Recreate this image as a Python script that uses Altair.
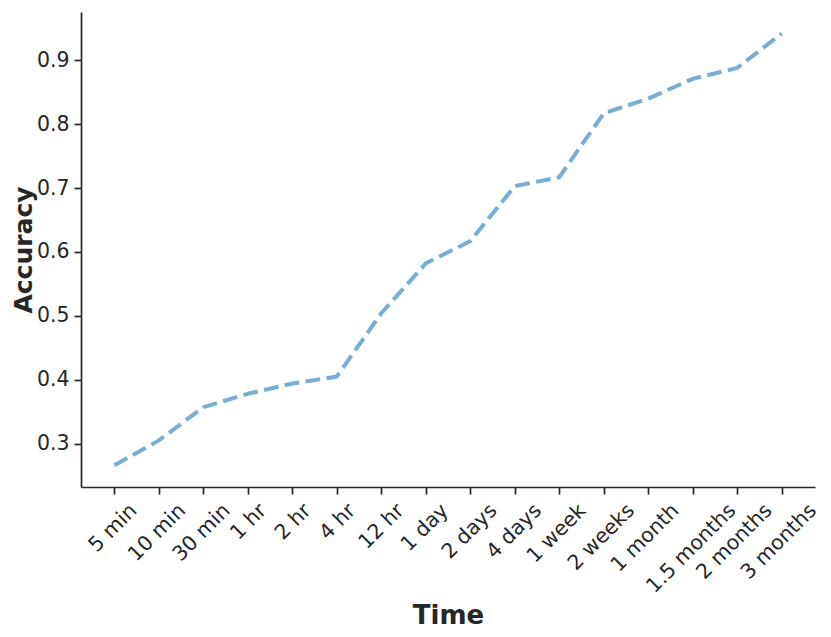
import altair as alt
import pandas as pd

times = ["5 min", "10 min", "30 min", "1 hr", "2 hr", "4 hr", "12 hr", "1 day",
         "2 days", "4 days", "1 week", "2 weeks", "1 month", "1.5 months",
         "2 months", "3 months"]
accuracy = [0.266, 0.305, 0.357, 0.378, 0.394, 0.405, 0.504, 0.582,
            0.617, 0.703, 0.717, 0.817, 0.840, 0.871, 0.888, 0.942]
y_ticks = [0.3, 0.4, 0.5, 0.6, 0.7, 0.8, 0.9]

df = pd.DataFrame({"Time": times, "Accuracy": accuracy})

FONT = "DejaVu Sans"
INK = "#262626"

chart = alt.Chart(df).mark_line(
    color="#79add2", strokeWidth=4, strokeDash=[14.8, 6.4]
).encode(
    x=alt.X(
        "Time:O", sort=times,
        scale=alt.Scale(type="point", padding=0.75),
        axis=alt.Axis(
            title="Time", titleFont=FONT, titleFontSize=26, titleFontWeight="bold",
            titleColor=INK, titleY=136, titleBaseline="alphabetic",
            labelFont=FONT, labelFontSize=20.5, labelColor=INK,
            labelAngle=-45, labelAlign="right", labelBaseline="top",
            labelOffset=alt.ExprRef("0.354*(length(datum.value)*11.5 - 24)"),
            labelPadding=6, labelOverlap=False, labelBound=False, labelFlush=False,
            tickSize=7, tickWidth=1.7, tickColor=INK,
            domainWidth=1.7, domainColor=INK, grid=False,
        ),
    ),
    y=alt.Y(
        "Accuracy:Q",
        scale=alt.Scale(domain=[0.2321, 0.9756], nice=False, zero=False),
        axis=alt.Axis(
            values=y_ticks, format=".1f",
            title="Accuracy", titleFont=FONT, titleFontSize=25, titleFontWeight="bold",
            titleColor=INK, titleX=-49.8, titleY=237.5, titleBaseline="alphabetic",
            labelFont=FONT, labelFontSize=20.5, labelColor=INK, labelPadding=5,
            tickSize=7, tickWidth=1.7, tickColor=INK,
            domainWidth=1.7, domainColor=INK, grid=False,
        ),
    ),
).properties(
    width=734, height=475,
    autosize=alt.AutoSizeParams(type="none"),
    padding={"left": 73, "top": 4, "right": 8, "bottom": 142},
    background="white",
).configure_view(stroke=None)

chart.save("out.html", embed_options={"renderer": "svg", "actions": False})
